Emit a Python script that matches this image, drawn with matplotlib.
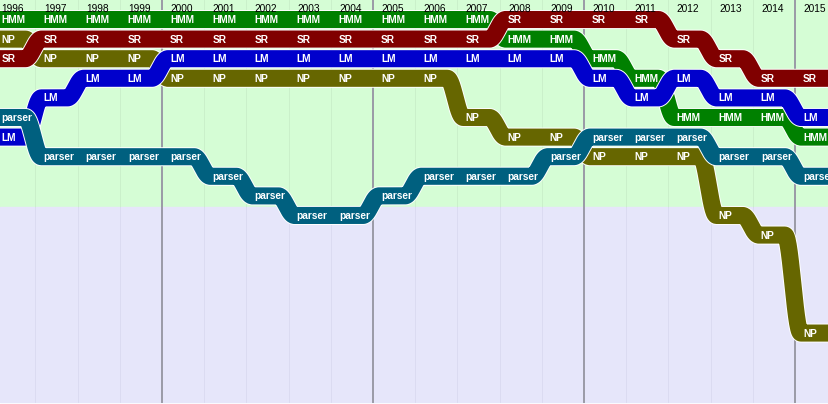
import numpy as np
import matplotlib.pyplot as plt
import matplotlib.patheffects as pe

# rank position of each term per year (1 = top row)
years = list(range(1996, 2016))
hmm_rank = [1, 1, 1, 1, 1, 1, 1, 1, 1, 1, 1, 1, 2, 2, 3, 4, 6, 6, 6, 7]
sr_rank = [3, 2, 2, 2, 2, 2, 2, 2, 2, 2, 2, 2, 1, 1, 1, 1, 2, 3, 4, 4]
np_rank = [2, 3, 3, 3, 4, 4, 4, 4, 4, 4, 4, 6, 7, 7, 8, 8, 8, 11, 12, 17]
lm_rank = [7, 5, 4, 4, 3, 3, 3, 3, 3, 3, 3, 3, 3, 3, 4, 5, 4, 5, 5, 6]
parser_rank = [6, 8, 8, 8, 8, 9, 10, 11, 11, 10, 9, 9, 9, 8, 7, 7, 7, 8, 8, 9]

# drawn bottom to top
names = ["HMM", "NP", "LM", "SR", "parser"]
ranks = [hmm_rank, np_rank, lm_rank, sr_rank, parser_rank]
colors = ["#008000", "#666600", "#0000cc", "#800000", "#00607f"]

green_bottom = 10.57   # rows above this sit on the green background

plt.rcParams['font.family'] = ['Liberation Sans Narrow', 'Liberation Sans', 'DejaVu Sans']

fig = plt.figure(figsize=(8.29, 4.04), dpi=100)
ax = fig.add_axes([0, 0, 1, 1])
ax.set_xlim(0.161, 19.806)
ax.set_ylim(20.62, 0.005)
ax.axis('off')

# background areas
ax.axhspan(0.005, green_bottom, color='#d5fdd5', zorder=0)
ax.axhspan(green_bottom, 20.52, color='#e6e6fa', zorder=0)

# column separators
for i in range(len(years) + 1):
    if i % 5 == 4:
        ax.plot([i, i], [0.005, 20.52], color='#9a9aa6', lw=1.4, zorder=1)
    else:
        ax.plot([i, i], [0.005, green_bottom], color='#c8eec8', lw=0.6, zorder=1)
        ax.plot([i, i], [green_bottom, 20.52], color='#dadaf0', lw=0.6, zorder=1)


def band_path(r, t0=0.76, t1=1.14):
    n = len(r)
    xs, ys = [], []
    for i in range(n):
        a = -0.5 if i == 0 else i + t1 - 1
        b = i + t0 if i < n - 1 else n + 0.5
        xs += [a, b]
        ys += [r[i], r[i]]
        if i < n - 1:
            t = np.linspace(0, 1, 30)[1:-1]
            xs += list(i + t0 + (t1 - t0) * t)
            ys += list(r[i] + (r[i + 1] - r[i]) * (1 - np.cos(np.pi * t)) / 2)
    return np.array(xs), np.array(ys)


lw = 12.3
for k, (name, r, c) in enumerate(zip(names, ranks, colors)):
    xs, ys = band_path(r)
    z = 2 + k
    ax.plot(xs, ys, color=c, lw=lw, solid_capstyle='round', solid_joinstyle='round', zorder=z,
            path_effects=[pe.Stroke(linewidth=lw + 1.4, foreground='white'), pe.Normal()])
    for i, val in enumerate(r):
        ax.text(i + 0.19, val + 0.03, name, color='white', fontsize=7.3, fontweight='bold',
                ha='left', va='center', zorder=z + 0.5)

for i, y in enumerate(years):
    ax.text(i + 0.2, 0.45, str(y), color='black', fontsize=7.3, ha='left', va='center', zorder=10)

fig.savefig('out.png', dpi=100)
